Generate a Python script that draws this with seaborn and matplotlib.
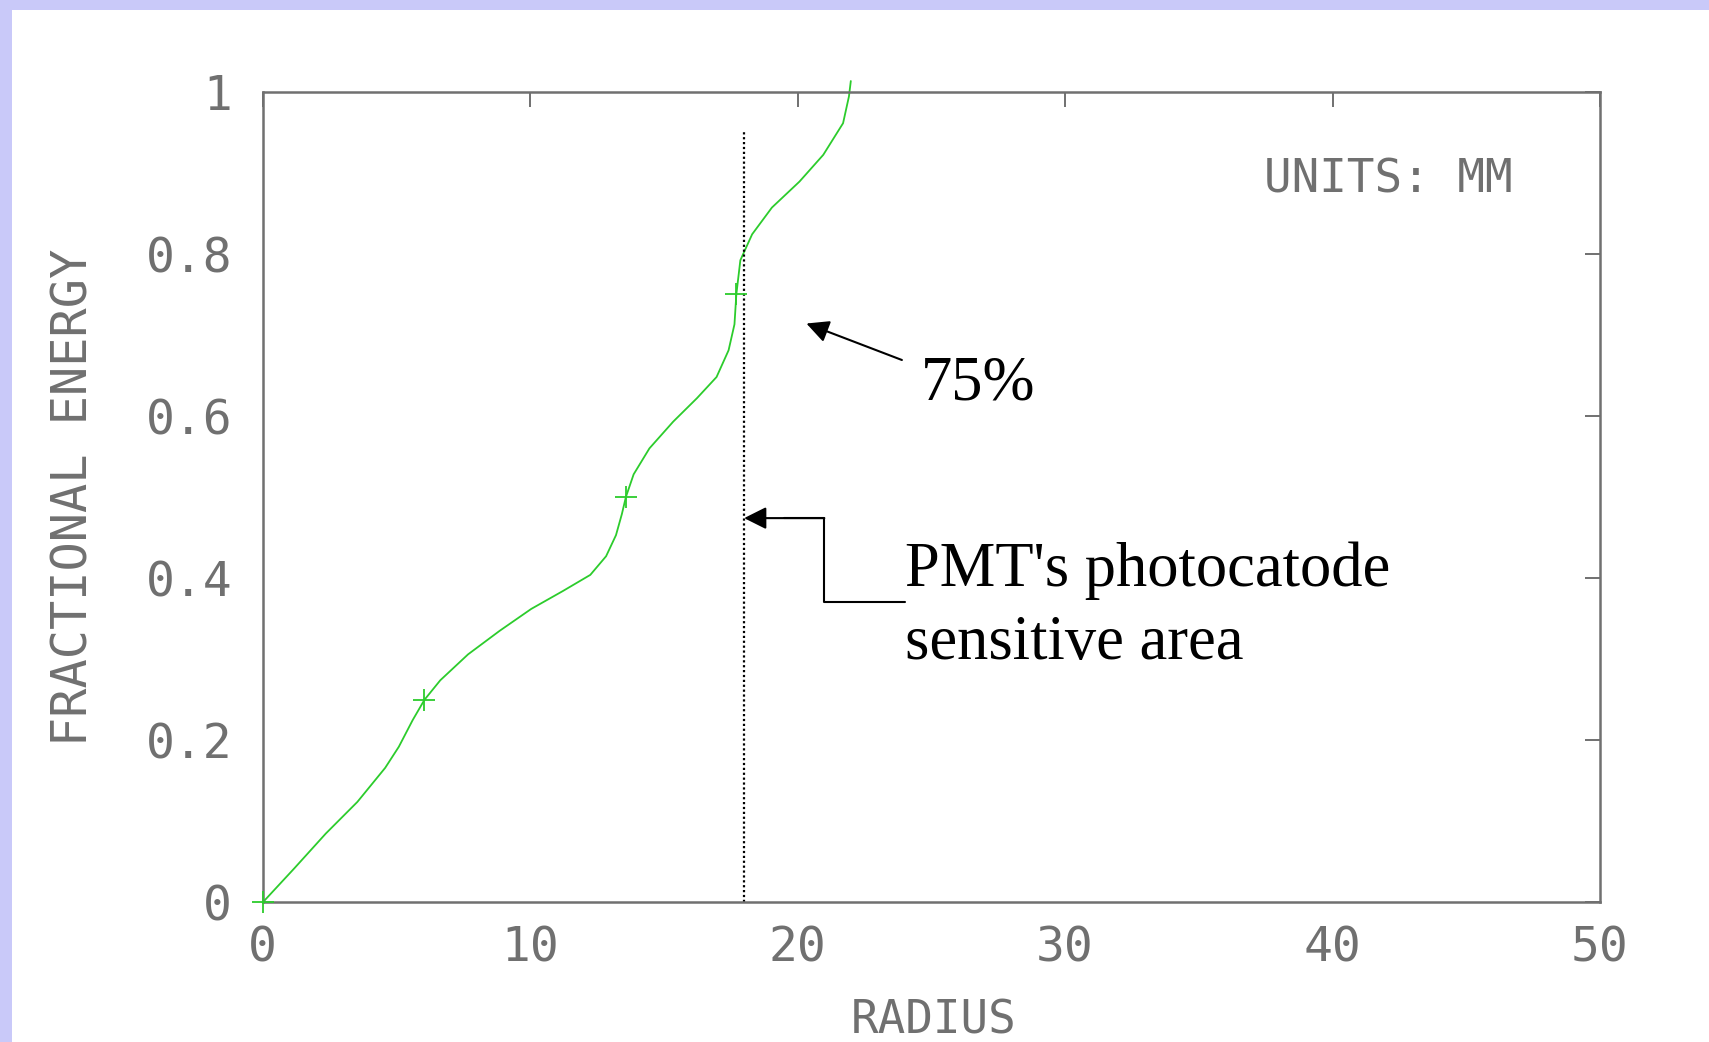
import matplotlib
matplotlib.use("Agg")
import matplotlib.pyplot as plt
import seaborn as sns
from matplotlib.patches import Rectangle

# curve (radius in mm, fractional energy)
radius = [0.0, 1.18, 2.36, 3.54, 4.58, 5.09, 5.61, 6.05, 6.64, 7.68, 8.86,
          10.04, 11.22, 12.25, 12.84, 13.21, 13.43, 13.58, 13.87, 14.46,
          15.35, 16.24, 16.97, 17.42, 17.64, 17.71, 17.86, 18.3, 19.04,
          20.07, 20.96, 21.7, 21.92, 21.99]
energy = [0.0, 0.042, 0.085, 0.124, 0.166, 0.192, 0.225, 0.25, 0.274, 0.306, 0.335,
          0.362, 0.384, 0.404, 0.427, 0.453, 0.479, 0.5, 0.528, 0.56,
          0.593, 0.622, 0.648, 0.681, 0.713, 0.75, 0.792, 0.824, 0.857,
          0.889, 0.922, 0.961, 0.994, 1.013]

# quartile markers
mark_radius = [0.0, 6.05, 13.58, 17.71]
mark_energy = [0.0, 0.25, 0.5, 0.75]

pmt_radius = 18.0
pmt_top = 0.953

x_ticks = [0, 10, 20, 30, 40, 50]
y_ticks = [0, 0.2, 0.4, 0.6, 0.8, 1.0]
y_tick_labels = ['0', '0.2', '0.4', '0.6', '0.8', '1']

sns.set_style("white")
plt.rcParams['font.family'] = ['DejaVu Sans Mono']

gray = '#707070'
green = '#2ccc2c'

fig = plt.figure(figsize=(17.09, 10.42), dpi=100)
fig.patch.set_facecolor('white')
fig.patches.append(Rectangle((0, 1 - 10 / 1042), 1, 10 / 1042, transform=fig.transFigure,
                             facecolor='#c9c9f9', edgecolor='none', zorder=0))
fig.patches.append(Rectangle((0, 0), 12 / 1709, 1, transform=fig.transFigure,
                             facecolor='#c9c9f9', edgecolor='none', zorder=0))

ax = fig.add_axes([0.1537, 0.1339, 0.7825, 0.7782])

sns.lineplot(x=radius, y=energy, sort=False, estimator=None, color=green,
             linewidth=1.3, ax=ax, clip_on=False)
sns.scatterplot(x=mark_radius, y=mark_energy, marker='+', s=260, color=green,
                linewidth=1.3, ax=ax, clip_on=False, zorder=3)

ax.plot([pmt_radius, pmt_radius], [0, pmt_top], color='black', linestyle=(0, (1, 1.2)),
        linewidth=1.6)

ax.set_xlim(0, 50)
ax.set_ylim(0, 1)
ax.set_xticks(x_ticks)
ax.set_yticks(y_ticks)
ax.set_yticklabels(y_tick_labels)

for s in ax.spines.values():
    s.set_color(gray)
    s.set_linewidth(1.8)
ax.tick_params(direction='in', top=True, right=True, length=11, width=1.4,
               color=gray, labelcolor=gray, labelsize=34.5)
ax.tick_params(axis='x', pad=16)
ax.tick_params(axis='y', pad=22)

ax.set_xlabel('RADIUS', fontsize=33, color=gray)
ax.xaxis.set_label_coords(0.502, -0.119)
ax.set_ylabel('FRACTIONAL ENERGY', fontsize=35, color=gray)
ax.yaxis.set_label_coords(-0.1235, 0.5)

ax.text(37.45, 0.891, 'UNITS: MM', fontsize=33, color=gray, ha='left', va='center')

serif = ['Liberation Serif', 'DejaVu Serif']
ax.text(24.6, 0.62, '75%', family=serif, fontsize=45, color='black', ha='left',
        va='baseline')
ax.annotate('', xy=(20.33, 0.714), xytext=(23.9, 0.669),
            arrowprops=dict(arrowstyle='-|>', color='black', lw=1.5, mutation_scale=34,
                            shrinkA=0, shrinkB=0))

ax.text(24.0, 0.39, "PMT's photocatode", family=serif, fontsize=45, color='black',
        ha='left', va='baseline')
ax.text(24.0, 0.30, 'sensitive area', family=serif, fontsize=45, color='black',
        ha='left', va='baseline')
ax.plot([24.0, 21.0, 21.0, 19.5], [0.37, 0.37, 0.474, 0.474], color='black', linewidth=1.5)
ax.annotate('', xy=(pmt_radius, 0.474), xytext=(21.0, 0.474),
            arrowprops=dict(arrowstyle='-|>', color='black', lw=1.5, mutation_scale=34,
                            shrinkA=0, shrinkB=0))

fig.savefig('out.png', dpi=100)
